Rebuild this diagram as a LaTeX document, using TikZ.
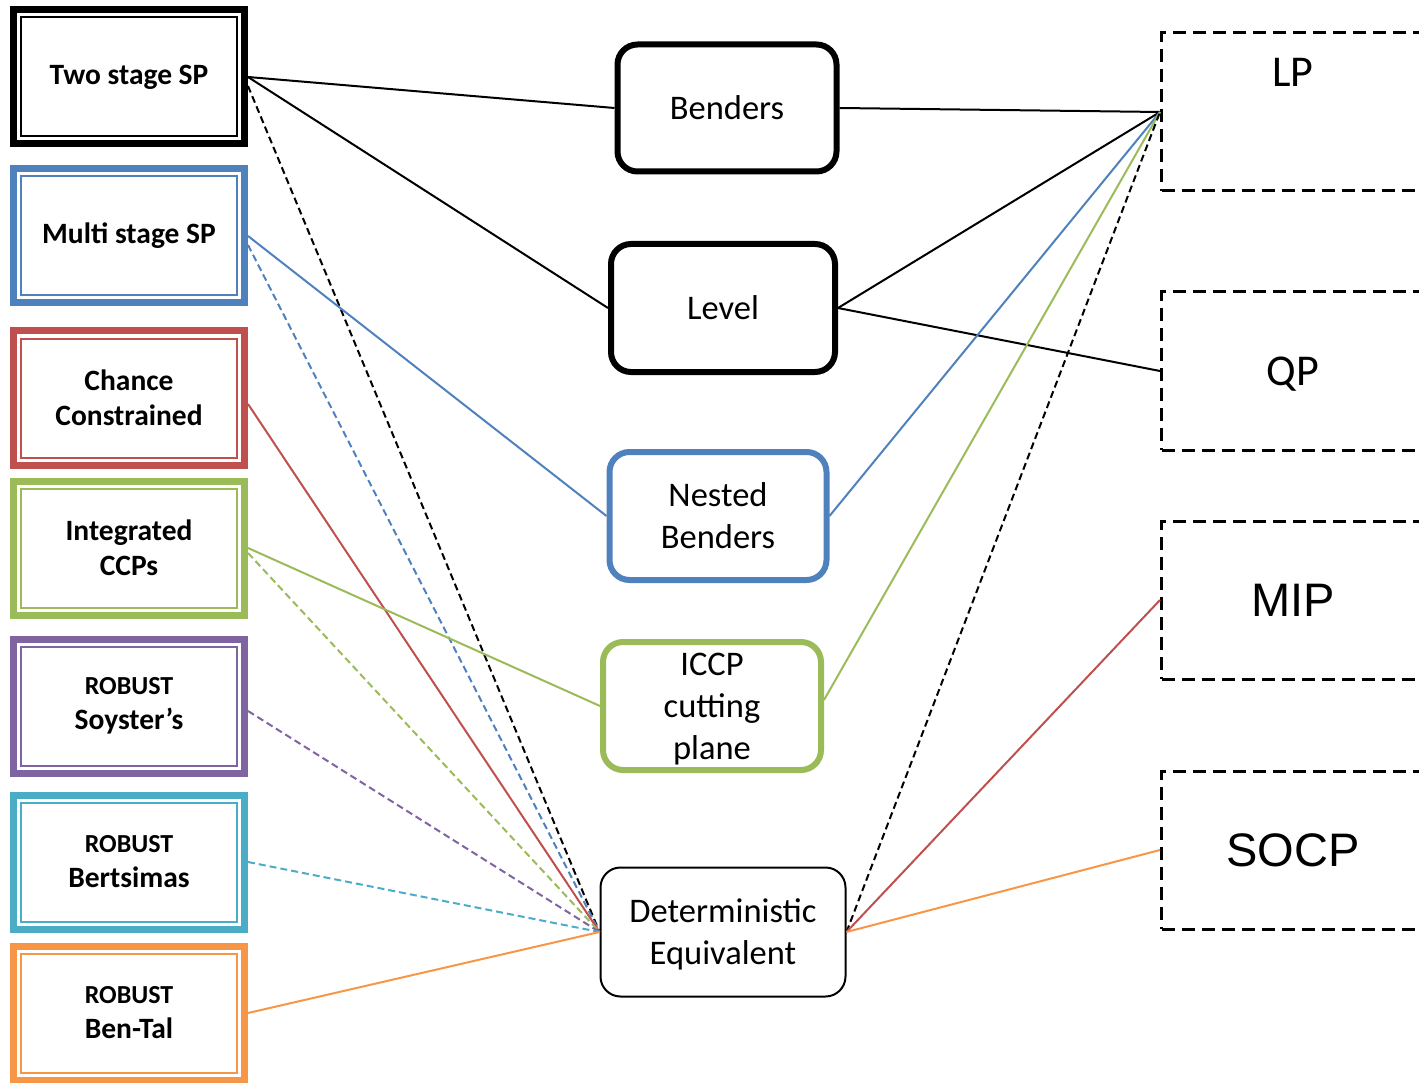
\documentclass[tikz,border=0pt]{standalone}
\usepackage{fontspec}
\setmainfont{Carlito}
\newfontfamily\arialfont{Liberation Sans}
\definecolor{cblue}{HTML}{4F81BD}
\definecolor{cred}{HTML}{C0504D}
\definecolor{cgreen}{HTML}{9BBB59}
\definecolor{cpurple}{HTML}{8064A2}
\definecolor{caqua}{HTML}{4BACC6}
\definecolor{corange}{HTML}{F79646}
\newcommand{\robust}{{\fontsize{26}{35}\selectfont ROBUST}}
\begin{document}
\begin{tikzpicture}[x=1pt,y=-1pt,
  srcbox/.style={draw=#1, line width=7pt, fill=white, minimum width=231pt,
    minimum height=134pt, inner sep=0pt, align=center,
    font=\fontsize{29.5}{35}\selectfont\bfseries},
  method/.style={draw=#1, line width=6pt, rounded corners=20pt, fill=white,
    inner sep=0pt, align=center, font=\fontsize{34.5}{42}\selectfont},
  classbox/.style={draw=black, line width=3pt, dash pattern=on 13pt off 7pt,
    minimum width=263pt, minimum height=158pt, inner sep=0pt},
  link/.style={line width=2pt, draw=#1},
  dlink/.style={line width=2pt, draw=#1, dash pattern=on 7pt off 4pt},
]
\useasboundingbox (0,0) rectangle (1419,1083);

% problem classes (left column)
\node[srcbox=black]   (two)    at (129,77)   {Two stage SP};
\node[srcbox=cblue]   (multi)  at (129,236)  {Multi stage SP};
\node[srcbox=cred]    (chance) at (129,398)  {Chance\\Constrained};
\node[srcbox=cgreen]  (integ)  at (129,548)  {Integrated\\CCPs};
\node[srcbox=cpurple] (soy)    at (129,706)  {\robust\\Soyster’s};
\node[srcbox=caqua]   (bert)   at (129,862)  {\robust\\Bertsimas};
\node[srcbox=corange] (bental) at (129,1013) {\robust\\Ben-Tal};

% thin inner frame of each left box
\foreach \n/\c in {two/black,multi/cblue,chance/cred,integ/cgreen,soy/cpurple,bert/caqua,bental/corange}
  \draw[\c, line width=2pt] ([xshift=11pt,yshift=-11pt]\n.north west) rectangle ([xshift=-11pt,yshift=11pt]\n.south east);

% solution methods (middle column)
\node[method=black,  minimum width=219pt, minimum height=127pt] (bend)  at (727,108) {Benders};
\node[method=black,  minimum width=224pt, minimum height=128pt] (level) at (723,308) {Level};
\node[method=cblue,  minimum width=217pt, minimum height=128pt] (nest)  at (718,516) {Nested\\Benders};
\node[method=cgreen, minimum width=218pt, minimum height=128pt] (iccp)  at (712,706) {};
\node[font=\fontsize{34.5}{42}\selectfont, align=center] at ([yshift=-3pt]iccp.center) {ICCP\\cutting\\plane};
\node[method=black, line width=2pt, minimum width=245pt, minimum height=129pt] (de) at (723,932) {};
\node[font=\fontsize{34.5}{42}\selectfont, align=center] at ([yshift=-2pt]de.center) {Deterministic\\Equivalent};

% problem types (right column)
\node[classbox] (lp)   at (1293,112) {};
\node[font=\fontsize{44}{44}\selectfont, anchor=base] at ([yshift=-55pt]lp.north) {LP};
\node[classbox] (qp) at (1293,371) {};
\node[font=\fontsize{44}{44}\selectfont] at ([yshift=-3pt]qp.center) {QP};
\node[classbox, font=\arialfont\fontsize{47}{47}\selectfont] (mip) at (1293,600) {MIP};
\node[classbox, font=\arialfont\fontsize{47}{47}\selectfont] (socp) at (1293,850) {SOCP};

% left connectors
\draw[link=black] (two.east) -- (bend.west);
\draw[link=black] (two.east) -- (level.west);
\draw[dlink=black] ([yshift=-9pt]two.east) -- (de.west);
\draw[link=cblue] (multi.east) -- (nest.west);
\draw[dlink=cblue] ([yshift=-9pt]multi.east) -- (de.west);
\draw[link=cred] ([yshift=-6pt]chance.east) -- (de.west);
\draw[link=cgreen] (integ.east) -- (iccp.west);
\draw[dlink=cgreen] ([yshift=-5pt]integ.east) -- (de.west);
\draw[dlink=cpurple] ([yshift=-5pt]soy.east) -- (de.west);
\draw[dlink=caqua] (bert.east) -- (de.west);
\draw[link=corange] (bental.east) -- (de.west);

% right connectors
\draw[link=black] (bend.east) -- (lp.west);
\draw[link=black] (level.east) -- (lp.west);
\draw[link=black] (level.east) -- (qp.west);
\draw[link=cblue] (nest.east) -- (lp.west);
\draw[link=cgreen] ([yshift=6pt]iccp.east) -- (lp.west);
\draw[dlink=black] (de.east) -- (lp.west);
\draw[link=cred] (de.east) -- (mip.west);
\draw[link=corange] (de.east) -- (socp.west);
\end{tikzpicture}
\end{document}
